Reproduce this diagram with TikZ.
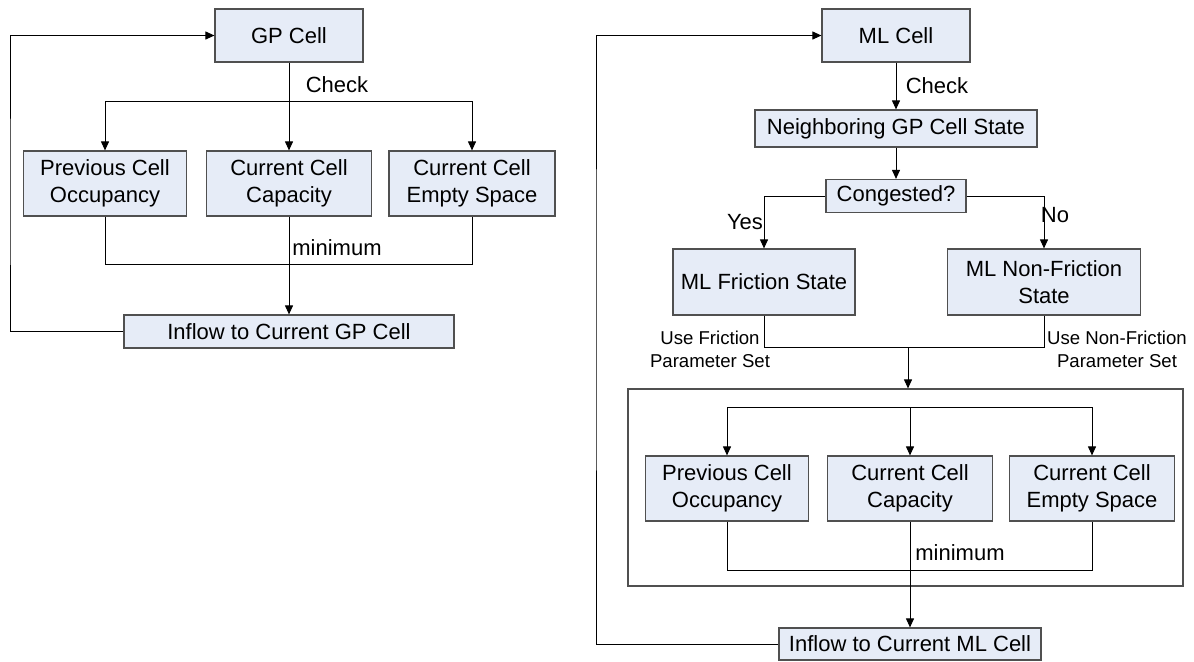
\documentclass[tikz,border=0pt]{standalone}
\usepackage{fontspec}
\setmainfont{Liberation Sans}
\usetikzlibrary{
    arrows.meta,
    calc,
    shapes,
}
\definecolor{cellfill}{RGB}{230,236,247}
\definecolor{celledge}{RGB}{80,80,80}

\begin{document}
\begin{tikzpicture}[
        x=0.5pt, y=-0.5pt,
        >={Triangle[length=4.5pt,width=4pt]},
        cell/.style={rectangle, draw=celledge, fill=cellfill, line width=0.6pt, inner sep=1pt, align=center,
            font=\fontsize{11}{13.5}\selectfont},
        tag/.style={inner sep=0pt, font=\fontsize{11}{13.5}\selectfont},
        smalltag/.style={inner sep=0pt, align=center, font=\fontsize{9.3}{11.2}\selectfont},
        frame/.style={rectangle, draw=celledge, line width=0.6pt, inner sep=0pt},
        line width=0.5pt,
        ]
        \useasboundingbox (0,0) rectangle (1194,661);

        % GP side
        \node[cell, minimum width=74pt, minimum height=26.5pt] (GPC)   at (289,35.5)  {GP Cell};
        \node[cell, minimum width=81.5pt, minimum height=32.5pt] (PREV1) at (105,183.5) {Previous Cell\\Occupancy};
        \node[cell, minimum width=82.5pt, minimum height=32.5pt] (CAP1)  at (289,183.5) {Current Cell\\Capacity};
        \node[cell, minimum width=83pt, minimum height=32.5pt] (EMP1)  at (472,183.5) {Current Cell\\Empty Space};
        \node[cell, minimum width=165pt, minimum height=16.5pt] (INF1)  at (289,331.5) {Inflow to Current GP Cell};
        \coordinate (CHK1) at (289,101);
        \coordinate (MIN1) at (289,264);
        \coordinate (FB1)  at (10,200);
        \node[tag] (CHKL1) at (337,85)  {Check};
        \node[tag] (MINL1) at (337,248) {minimum};
        \draw (GPC) -- (CHK1);
        \draw[->] (CHK1) -| (PREV1);
        \draw[->] (CHK1) -- (CAP1);
        \draw[->] (CHK1) -| (EMP1);
        \draw (PREV1) |- (MIN1) -| (EMP1);
        \draw[->] (CAP1) -- (INF1);
        \draw[->] (INF1.west) -| (FB1) |- (GPC.west);

        % ML side
        \node[cell, minimum width=74pt, minimum height=26.5pt] (MLC)  at (896,35.5)  {ML Cell};
        \node[cell, minimum width=141pt, minimum height=18.5pt] (NGB)  at (896,128.5) {Neighboring GP Cell State};
        \node[cell, minimum width=70pt, minimum height=16.5pt] (CONG) at (896,196)   {Congested?};
        \node[cell, minimum width=91pt, minimum height=33pt] (FRI)  at (764,282)   {ML Friction State};
        \node[cell, minimum width=96.5pt, minimum height=33pt] (NFRI) at (1044,282)  {ML Non-Friction\\State};
        \node[frame, minimum width=277.5pt, minimum height=98.5pt] (BOX) at (905.5,487.5) {};
        \node[cell, minimum width=81.5pt, minimum height=32.5pt] (PREV2) at (727,488.5)  {Previous Cell\\Occupancy};
        \node[cell, minimum width=82.5pt, minimum height=32.5pt] (CAP2)  at (910,488.5)  {Current Cell\\Capacity};
        \node[cell, minimum width=82.5pt, minimum height=32.5pt] (EMP2)  at (1092,488.5) {Current Cell\\Empty Space};
        \node[cell, minimum width=131pt, minimum height=16pt] (INF2)  at (910,644)    {Inflow to Current ML Cell};
        \coordinate (MRG)  at (908,347);
        \coordinate (CHK2) at (910,407);
        \coordinate (MIN2) at (910,570);
        \coordinate (FB2)  at (596,300);
        \node[tag] (CHKL2) at (937,86)   {Check};
        \node[tag] (YES)   at (745,222)  {Yes};
        \node[tag] (NO)    at (1055,215) {No};
        \node[smalltag] (USEF)  at (710,349.5)  {Use Friction\\Parameter Set};
        \node[smalltag] (USENF) at (1117,349.5) {Use Non-Friction\\Parameter Set};
        \node[tag] (MINL2) at (960,553)  {minimum};
        \draw[->] (MLC) -- (NGB);
        \draw[->] (NGB) -- (CONG);
        \draw[->] (CONG.west) -| (FRI);
        \draw[->] (CONG.east) -| (NFRI);
        \draw (FRI) |- (MRG) -| (NFRI);
        \draw[->] (MRG) -- (MRG |- BOX.north);
        \draw[->] (CHK2) -| (PREV2);
        \draw[->] (CHK2) -- (CAP2);
        \draw[->] (CHK2) -| (EMP2);
        \draw (PREV2) |- (MIN2) -| (EMP2);
        \draw[->] (CAP2) -- (INF2);
        \draw[->] (INF2.west) -| (FB2) |- (MLC.west);
\end{tikzpicture}
\end{document}
